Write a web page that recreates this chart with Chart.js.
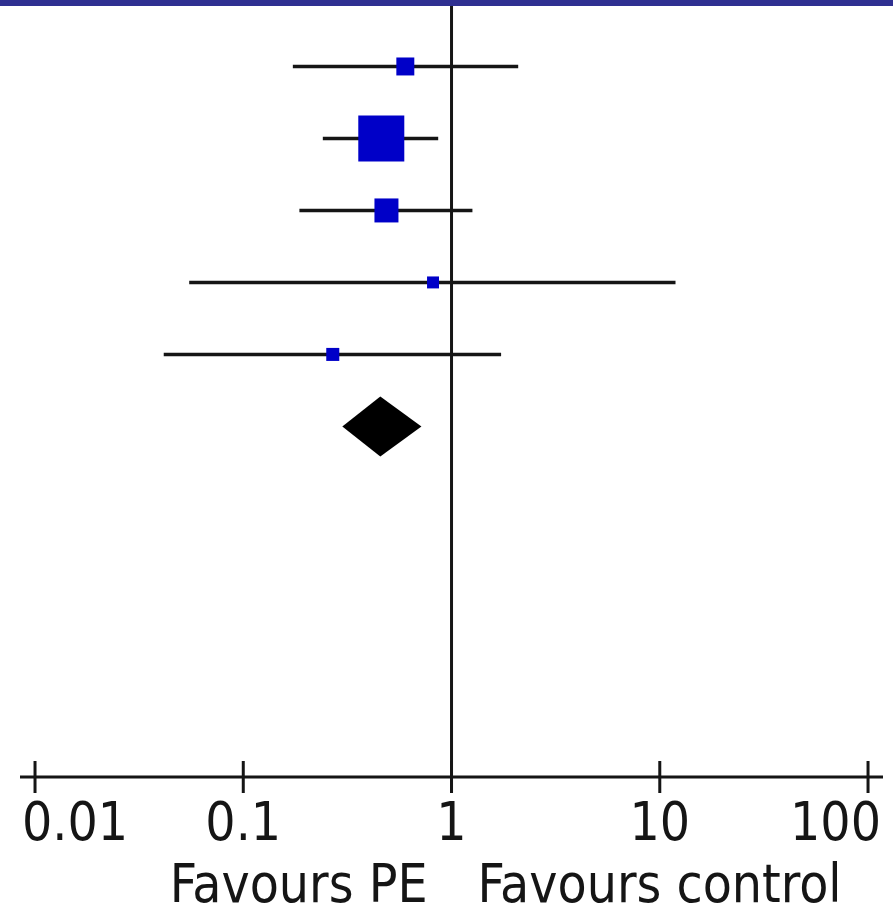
<!DOCTYPE html>
<html>
<head>
<meta charset="utf-8">
<title>Forest plot</title>
<script src="https://cdn.jsdelivr.net/npm/chart.js@4.4.1/dist/chart.umd.min.js"></script>
<style>
  body { margin: 0; background: #fff; }
  #wrap { width: 893px; height: 907px; }
</style>
</head>
<body>
<div id="wrap"><canvas id="forestChart" width="893" height="907"></canvas></div>
<script>
// study rows (top to bottom)
const studies = ['Study 1', 'Study 2', 'Study 3', 'Study 4', 'Study 5']
const oddsRatio = [0.60, 0.46, 0.487, 0.815, 0.269]
const lowerCI = [0.173, 0.241, 0.186, 0.055, 0.0415]
const upperCI = [2.09, 0.863, 1.26, 11.9, 1.73]
const weights = [9.7, 63.6, 17.3, 4.3, 5.1] // percent

// pooled estimate (diamond)
const pooledLower = 0.299
const pooledEstimate = 0.455
const pooledUpper = 0.717

const tickValues = [0.01, 0.1, 1, 10, 100]
const tickLabels = ['0.01', '0.1', '1', '10', '100']
const favoursLeft = 'Favours PE'
const favoursRight = 'Favours control'

const FONT = '53px "DejaVu Sans Condensed", "DejaVu Sans", sans-serif'
const INK = '#151515'

const ctx = document.getElementById('forestChart').getContext('2d')

const pooledRow = studies.length + 1

// one line dataset per confidence interval
const ciDatasets = studies.map((name, i) => ({
    type: 'line',
    label: name + ' CI',
    data: [{ x: lowerCI[i], y: i + 1 }, { x: upperCI[i], y: i + 1 }],
    borderColor: INK,
    borderWidth: 3.5,
    pointRadius: 0,
    order: 2
}))

const pointDataset = {
    type: 'scatter',
    label: 'Odds ratio',
    data: studies.map((name, i) => ({ x: oddsRatio[i], y: i + 1 })),
    pointStyle: 'rect',
    // square area proportional to weight
    pointRadius: (c) => 5.77 * Math.sqrt(weights[c.dataIndex]) / Math.SQRT2,
    backgroundColor: '#0000c8',
    borderWidth: 0,
    order: 1
}

const forestPlugin = {
    id: 'forest',
    beforeDatasetsDraw(chart) {
        const x = chart.scales.x
        const area = chart.chartArea
        const g = chart.ctx
        // line of no effect
        g.save()
        g.strokeStyle = INK
        g.lineWidth = 3
        g.beginPath()
        g.moveTo(x.getPixelForValue(1), area.top)
        g.lineTo(x.getPixelForValue(1), area.bottom + 16)
        g.stroke()
        g.restore()
    },
    afterDatasetsDraw(chart) {
        const x = chart.scales.x
        const y = chart.scales.y
        const g = chart.ctx
        const cy = y.getPixelForValue(pooledRow)
        g.save()
        g.fillStyle = '#000'
        g.beginPath()
        g.moveTo(x.getPixelForValue(pooledLower), cy)
        g.lineTo(x.getPixelForValue(pooledEstimate), cy - 30)
        g.lineTo(x.getPixelForValue(pooledUpper), cy)
        g.lineTo(x.getPixelForValue(pooledEstimate), cy + 30)
        g.closePath()
        g.fill()
        g.restore()
    },
    afterDraw(chart) {
        const x = chart.scales.x
        const area = chart.chartArea
        const g = chart.ctx
        const W = chart.width
        g.save()
        // banner
        g.fillStyle = 'rgb(47,48,145)'
        g.fillRect(0, 0, W, 6)

        // axis line
        g.strokeStyle = INK
        g.lineWidth = 3
        g.beginPath()
        g.moveTo(area.left, area.bottom)
        g.lineTo(area.right, area.bottom)
        g.stroke()

        g.font = FONT
        g.fillStyle = INK
        g.textBaseline = 'alphabetic'
        tickValues.forEach((v, i) => {
            const px = x.getPixelForValue(v)
            g.beginPath()
            g.moveTo(px, area.bottom - 16)
            g.lineTo(px, area.bottom + 16)
            g.stroke()
            const w = g.measureText(tickLabels[i]).width
            let left = px - w / 2
            left = Math.max(area.left + 2, Math.min(left, area.right - 2 - w))
            g.textAlign = 'left'
            g.fillText(tickLabels[i], left, area.bottom + 63)
        })

        const one = x.getPixelForValue(1)
        g.textAlign = 'right'
        g.fillText(favoursLeft, one - 24, area.bottom + 125)
        g.textAlign = 'left'
        g.fillText(favoursRight, one + 26, area.bottom + 125)
        g.restore()
    }
}

const config = {
    data: { datasets: [...ciDatasets, pointDataset] },
    options: {
        responsive: false,
        animation: false,
        layout: { autoPadding: false, padding: { left: 20, right: 10, top: 6, bottom: 130 } },
        plugins: { legend: { display: false }, tooltip: { enabled: false } },
        scales: {
            x: { type: 'logarithmic', min: 0.00847, max: 118, display: false },
            y: { type: 'linear', min: 0.16, max: 10.87, reverse: true, display: false }
        }
    },
    plugins: [forestPlugin]
}

const myChart = new Chart(ctx, config)
</script>
</body>
</html>
